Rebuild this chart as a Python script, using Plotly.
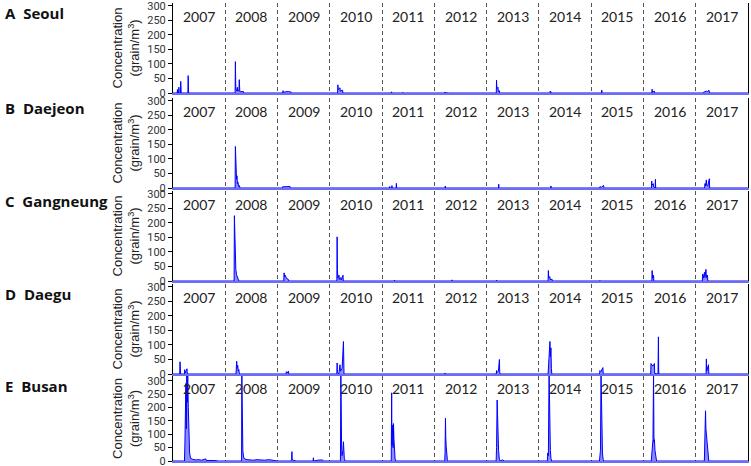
import plotly.graph_objects as go
from plotly.subplots import make_subplots

letters = ['A', 'B', 'C', 'D', 'E']
cities = ['Seoul', 'Daejeon', 'Gangneung', 'Daegu', 'Busan']
years = list(range(2007, 2018))
y_ticks = [0, 50, 100, 150, 200, 250, 300]
y_max = [310, 310, 310, 310, 318]

seoul_dates = ['2007-01-01', '2007-01-30', '2007-02-01', '2007-02-03', '2007-02-09', '2007-02-11', '2007-02-13',
               '2007-02-22', '2007-02-24', '2007-02-25', '2007-02-27', '2007-02-28', '2007-04-15', '2007-04-17',
               '2007-04-18', '2007-04-20',
               '2008-03-10', '2008-03-12', '2008-03-13', '2008-03-15', '2008-03-20', '2008-03-26', '2008-03-28',
               '2008-04-06', '2008-04-08', '2008-04-09', '2008-04-12', '2008-05-07', '2008-05-09',
               '2009-02-06', '2009-02-08', '2009-02-10', '2009-02-26', '2009-03-19', '2009-04-06', '2009-04-08',
               '2010-02-24', '2010-02-26', '2010-02-28', '2010-03-13', '2010-03-15', '2010-03-31', '2010-04-02',
               '2011-03-06', '2011-03-08', '2011-03-10', '2011-05-23', '2011-05-25', '2011-05-27',
               '2012-03-10', '2012-03-12', '2012-03-25', '2012-04-07', '2012-04-09',
               '2013-03-09', '2013-03-11', '2013-03-13', '2013-03-21', '2013-03-23', '2013-03-31', '2013-04-02',
               '2014-03-19', '2014-03-21', '2014-03-26', '2014-03-28',
               '2015-03-14', '2015-03-16', '2015-03-18',
               '2016-02-29', '2016-03-02', '2016-03-04', '2016-03-18', '2016-03-20',
               '2017-02-24', '2017-02-26', '2017-03-16', '2017-03-25', '2017-04-03', '2017-04-05', '2017-04-07',
               '2017-12-31']
seoul_vals = [0, 0, 12, 0, 0, 20, 5,
              0, 40, 15, 5, 0, 0, 60,
              10, 0,
              0, 108, 40, 12, 8, 20, 6,
              10, 46, 15, 4, 5, 0,
              0, 8, 2, 4, 5, 3, 0,
              0, 28, 12, 18, 6, 10, 0,
              0, 4, 0, 0, 2, 0,
              0, 2, 1, 2, 0,
              0, 44, 15, 20, 5, 8, 0,
              0, 7, 4, 0,
              0, 10, 0,
              0, 13, 3, 6, 0,
              0, 3, 6, 5, 10, 2, 0,
              0]

daejeon_dates = ['2007-01-01',
                 '2008-03-10', '2008-03-12', '2008-03-14', '2008-03-17', '2008-03-20', '2008-03-23', '2008-03-26',
                 '2008-03-30', '2008-04-03', '2008-04-10', '2008-04-12',
                 '2009-02-03', '2009-02-05', '2009-02-26', '2009-03-29', '2009-03-31',
                 '2011-02-21', '2011-02-23', '2011-02-25', '2011-03-09', '2011-03-11', '2011-03-13', '2011-04-09',
                 '2011-04-11', '2011-04-13', '2011-04-15',
                 '2012-03-16', '2012-03-18', '2012-03-20',
                 '2013-03-24', '2013-03-26', '2013-03-28', '2013-03-30',
                 '2014-03-24', '2014-03-26', '2014-03-28',
                 '2015-03-01', '2015-03-03', '2015-03-15', '2015-03-29', '2015-03-31', '2015-04-02',
                 '2016-02-26', '2016-02-28', '2016-03-01', '2016-03-10', '2016-03-12', '2016-03-23', '2016-03-25',
                 '2016-03-27',
                 '2017-03-04', '2017-03-06', '2017-03-10', '2017-03-16', '2017-03-18', '2017-03-25', '2017-04-06',
                 '2017-04-08',
                 '2017-12-31']
daejeon_vals = [0,
                0, 143, 70, 60, 30, 42, 15,
                20, 6, 8, 0,
                0, 4, 5, 5, 0,
                0, 5, 0, 0, 8, 0, 0,
                16, 2, 0,
                0, 7, 0,
                0, 13, 2, 0,
                0, 7, 0,
                0, 4, 3, 9, 2, 0,
                0, 24, 10, 15, 4, 0, 30,
                0,
                0, 15, 8, 28, 10, 6, 32,
                0,
                0]

gangneung_dates = ['2007-01-01',
                   '2008-03-03', '2008-03-05', '2008-03-08', '2008-03-11', '2008-03-15', '2008-03-20', '2008-03-25',
                   '2008-04-01', '2008-04-05',
                   '2009-02-13', '2009-02-15', '2009-02-19', '2009-02-23', '2009-03-03', '2009-03-18', '2009-03-20',
                   '2010-02-19', '2010-02-21', '2010-02-23', '2010-02-26', '2010-03-06', '2010-03-08', '2010-03-19',
                   '2010-03-21', '2010-04-03', '2010-04-05',
                   '2011-03-27', '2011-03-29', '2011-03-31',
                   '2012-05-01', '2012-05-03', '2012-05-05',
                   '2013-03-09', '2013-03-11', '2013-03-13',
                   '2014-03-06', '2014-03-08', '2014-03-10', '2014-03-19', '2014-03-21', '2014-04-03', '2014-04-05',
                   '2015-03-01', '2015-03-03', '2015-03-05',
                   '2016-02-29', '2016-03-02', '2016-03-05', '2016-03-12', '2016-03-14',
                   '2017-02-16', '2017-02-18', '2017-02-22', '2017-03-03', '2017-03-06', '2017-03-13', '2017-03-17',
                   '2017-03-24', '2017-03-26',
                   '2017-12-31']
gangneung_vals = [0,
                  0, 225, 160, 62, 40, 22, 12,
                  5, 0,
                  0, 28, 15, 20, 10, 5, 0,
                  0, 152, 40, 10, 20, 5, 12,
                  3, 20, 0,
                  0, 3, 0,
                  0, 4, 0,
                  0, 3, 0,
                  0, 36, 12, 15, 4, 6, 0,
                  0, 2, 0,
                  0, 36, 10, 20, 0,
                  0, 24, 10, 30, 12, 40, 12,
                  20, 0,
                  0]

daegu_dates = ['2007-01-01', '2007-02-17', '2007-02-19', '2007-02-21', '2007-02-23', '2007-03-22', '2007-03-24',
               '2007-03-26', '2007-04-09', '2007-04-11',
               '2008-03-16', '2008-03-18', '2008-03-21', '2008-03-24', '2008-03-28', '2008-04-01', '2008-04-05',
               '2008-04-08', '2008-04-12',
               '2009-03-01', '2009-03-03', '2009-03-08', '2009-03-18', '2009-03-20',
               '2010-02-19', '2010-02-21', '2010-02-23', '2010-03-05', '2010-03-13', '2010-03-16', '2010-03-28',
               '2010-04-06', '2010-04-08', '2010-04-10',
               '2012-03-10', '2012-03-12', '2012-03-20', '2012-03-22',
               '2013-03-09', '2013-03-11', '2013-03-14', '2013-03-24', '2013-03-31', '2013-04-02', '2013-04-04',
               '2014-03-06', '2014-03-08', '2014-03-12', '2014-03-19', '2014-03-22', '2014-03-26', '2014-03-29',
               '2014-04-01',
               '2015-03-01', '2015-03-03', '2015-03-10', '2015-03-24', '2015-03-26', '2015-03-28',
               '2016-02-21', '2016-02-23', '2016-03-01', '2016-03-10', '2016-03-18', '2016-03-20', '2016-04-12',
               '2016-04-15', '2016-04-17', '2016-04-19',
               '2017-03-14', '2017-03-16', '2017-03-18', '2017-03-31', '2017-04-02',
               '2017-12-31']
daegu_vals = [0, 0, 42, 5, 0, 0, 15,
              3, 18, 0,
              0, 15, 44, 20, 30, 10, 15,
              4, 0,
              0, 8, 3, 10, 0,
              0, 38, 5, 0, 32, 10, 20,
              112, 30, 0,
              0, 2, 2, 0,
              0, 12, 5, 10, 50, 8, 0,
              0, 20, 25, 112, 60, 90, 20,
              0,
              0, 12, 8, 22, 3, 0,
              0, 36, 30, 28, 36, 2, 0,
              128, 10, 0,
              0, 52, 10, 32, 0,
              0]

busan_dates = ['2007-01-01', '2007-03-22', '2007-03-25', '2007-03-28', '2007-04-01', '2007-04-04', '2007-04-07',
               '2007-04-11', '2007-04-14', '2007-04-18', '2007-04-22', '2007-04-27', '2007-05-04', '2007-05-20',
               '2007-06-10', '2007-07-01', '2007-07-20', '2007-08-18', '2007-08-21', '2007-09-15', '2007-10-20',
               '2007-11-15',
               '2008-04-24', '2008-04-26', '2008-04-28', '2008-04-30', '2008-05-03', '2008-05-08', '2008-05-15',
               '2008-06-01', '2008-06-20', '2008-07-15', '2008-08-10', '2008-09-01', '2008-10-01', '2008-11-01',
               '2008-12-01', '2008-12-31',
               '2009-04-05', '2009-04-09', '2009-04-11', '2009-04-13', '2009-04-20', '2009-05-10', '2009-09-06',
               '2009-09-08', '2009-09-10', '2009-10-10', '2009-11-10', '2009-11-20',
               '2010-03-16', '2010-03-19', '2010-03-21', '2010-03-24', '2010-03-27', '2010-04-03', '2010-04-06',
               '2010-04-08', '2010-04-12', '2010-04-18',
               '2011-03-06', '2011-03-09', '2011-03-11', '2011-03-14', '2011-03-17', '2011-03-19', '2011-03-22',
               '2011-03-25', '2011-03-28', '2011-04-02', '2011-04-06',
               '2012-03-14', '2012-03-16', '2012-03-19', '2012-03-21', '2012-03-24', '2012-03-27', '2012-04-01',
               '2012-04-04', '2012-06-20', '2012-07-10',
               '2013-03-08', '2013-03-11', '2013-03-15', '2013-03-18', '2013-03-21', '2013-03-25', '2013-03-30',
               '2013-04-05', '2013-04-20', '2013-05-05',
               '2014-03-01', '2014-03-04', '2014-03-08', '2014-03-13', '2014-03-16', '2014-03-19', '2014-03-22',
               '2014-03-26', '2014-03-31',
               '2015-02-28', '2015-03-03', '2015-03-07', '2015-03-11', '2015-03-14', '2015-03-17', '2015-03-21',
               '2015-03-26', '2015-03-30',
               '2016-02-25', '2016-02-28', '2016-03-04', '2016-03-08', '2016-03-12', '2016-03-15', '2016-03-18',
               '2016-03-22', '2016-03-27', '2016-04-02',
               '2017-03-02', '2017-03-06', '2017-03-10', '2017-03-13', '2017-03-16', '2017-03-19', '2017-03-23',
               '2017-03-27', '2017-04-02',
               '2017-12-31']
busan_vals = [0, 0, 60, 180, 290, 120, 330,
              220, 320, 200, 90, 30, 10, 6,
              4, 5, 3, 8, 2, 3, 2,
              0,
              0, 330, 200, 150, 40, 15, 8,
              5, 4, 3, 5, 4, 3, 5,
              2, 0,
              0, 5, 35, 4, 3, 0, 0,
              12, 0, 3, 4, 0,
              0, 330, 100, 60, 20, 40, 72,
              30, 10, 0,
              0, 255, 60, 100, 135, 50, 140,
              80, 30, 8, 0,
              0, 30, 160, 90, 55, 20, 5,
              0, 2, 0,
              0, 50, 228, 150, 90, 40, 8,
              0, 4, 0,
              0, 30, 20, 330, 170, 120, 40,
              10, 0,
              0, 20, 40, 330, 150, 90, 30,
              5, 0,
              0, 20, 60, 80, 330, 70, 80,
              40, 15, 0,
              0, 90, 188, 120, 100, 70, 50,
              15, 0,
              0]

series = [(seoul_dates, seoul_vals), (daejeon_dates, daejeon_vals), (gangneung_dates, gangneung_vals),
          (daegu_dates, daegu_vals), (busan_dates, busan_vals)]

# panel positions in pixels (top, bottom) for a 466 px tall figure
panel_px = [(3, 93), (98, 188), (191, 281), (284, 374), (376, 461)]
H = 466

fig = make_subplots(rows=5, cols=1)

for i, (d, v) in enumerate(series):
    fig.add_trace(go.Scatter(x=d, y=v, mode='lines', line=dict(color='#0000ff', width=1),
                             fill='tozeroy', fillcolor='rgba(0,0,255,0.45)', showlegend=False), row=i + 1, col=1)

for i in range(5):
    top, bot = panel_px[i]
    fig.update_yaxes(domain=[1 - bot / H, 1 - top / H], range=[0, y_max[i]], tickvals=y_ticks,
                     ticks='outside', ticklen=4, tickcolor='#000', showline=True, linecolor='#000',
                     linewidth=1, mirror=True, showgrid=False, zeroline=False, automargin=False,
                     ticklabeloverflow='allow',
                     tickfont=dict(family='Roboto', size=11, color='#333'),
                     title=dict(text='Concentration<br>(grain/m<sup>3</sup>)', standoff=4,
                                font=dict(family='Liberation Sans', size=13, color='#222')),
                     row=i + 1, col=1)
    fig.update_xaxes(type='date', range=['2007-01-01', '2018-01-01'], showticklabels=False,
                     tick0='2007-01-01', dtick='M12', showgrid=True, griddash='4px,3px',
                     gridcolor='#555', gridwidth=1, showline=True, linecolor='#6d6df2', linewidth=1.5,
                     zeroline=False, automargin=False, row=i + 1, col=1)

    yref = 'y' if i == 0 else 'y%d' % (i + 1)
    xref = 'x' if i == 0 else 'x%d' % (i + 1)
    for yr in years:
        fig.add_annotation(x='%d-07-02' % yr, y=y_max[i] - 48, xref=xref, yref=yref, text=str(yr),
                           showarrow=False, font=dict(family='Lato', size=14, color='#222'))
    fig.add_annotation(x=-0.296, y=1, xref='paper', yref=yref + ' domain', xanchor='left', yanchor='top',
                       yshift=2, text='<b>%s</b>&nbsp;&nbsp;<b>%s</b>' % (letters[i], cities[i]),
                       showarrow=False, font=dict(family='Open Sans', size=15, color='#111'))

fig.update_layout(width=751, height=466, autosize=False,
                  margin=dict(l=173, r=3, t=0, b=0),
                  paper_bgcolor='white', plot_bgcolor='white')

# the page body has a default 8px margin; drop it so the figure sits at the window corner
fig.write_html("out.html", config={'displayModeBar': False},
               post_script="document.body.style.margin='0';")
